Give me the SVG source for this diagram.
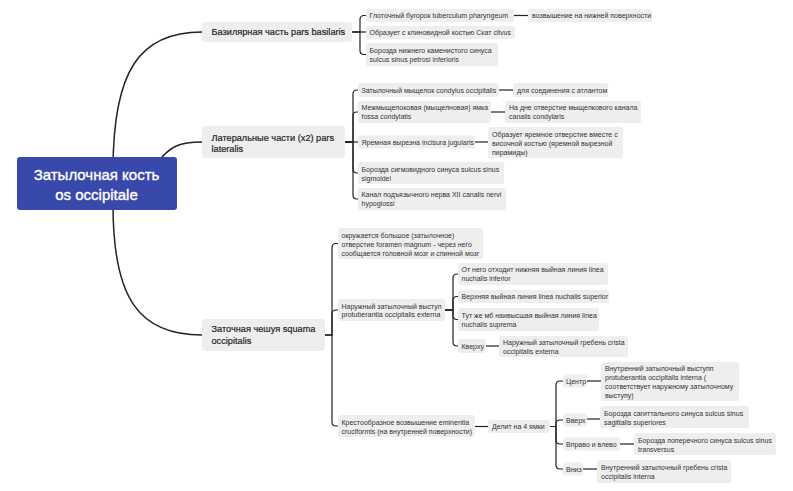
<svg xmlns="http://www.w3.org/2000/svg" width="793" height="491" viewBox="0 0 793 491">
<style>
.bg{fill:#ffffff}
.n{fill:#eeeeee}
.t{font-family:"Liberation Sans",Arial,sans-serif;font-size:7px;fill:#333333}
.t1{font-family:"Liberation Sans",Arial,sans-serif;font-size:9.2px;fill:#1f1f1f;stroke:#1f1f1f;stroke-width:0.2}
.rt{font-family:"Liberation Sans",Arial,sans-serif;font-size:15px;fill:#ffffff;stroke:#ffffff;stroke-width:0.35;text-anchor:middle}
.c{fill:none;stroke:#222222;stroke-width:1.2}
.c0{fill:none;stroke:#222222;stroke-width:1.5}
</style>
<rect class="bg" x="0" y="0" width="793" height="491"/>
<g id="connectors">
<path class="c0" d="M113,170 C113,70 140,32 202,32"/>
<path class="c0" d="M158,162 C170,146 180,142 202,142"/>
<path class="c0" d="M113,205 C113,300 140,335 202,335"/>
<path class="c" d="M352,32 H360 V19.5 Q360,15.5 364,15.5 H366"/>
<path class="c" d="M352,32 H366"/>
<path class="c" d="M352,32 H360 V50.5 Q360,54.5 364,54.5 H366"/>
<path class="c" d="M514,15.5 H528"/>
<path class="c" d="M345,142 H353 V94 Q353,90 357,90 H358"/>
<path class="c" d="M345,142 H353 V116 Q353,112 357,112 H358"/>
<path class="c" d="M345,142 H358"/>
<path class="c" d="M345,142 H353 V169 Q353,173 357,173 H358"/>
<path class="c" d="M345,142 H353 V195 Q353,199 357,199 H358"/>
<path class="c" d="M499,90 H513"/>
<path class="c" d="M491,112 H505"/>
<path class="c" d="M475,142 H488"/>
<path class="c" d="M325,335 H332 V247.5 Q332,243.5 336,243.5 H338"/>
<path class="c" d="M325,335 H332 V314 Q332,310 336,310 H338"/>
<path class="c" d="M325,335 H332 V422 Q332,426 336,426 H338"/>
<path class="c" d="M445,310 H453 V278 Q453,274 457,274 H458"/>
<path class="c" d="M445,310 H453 V300.5 Q453,296.5 457,296.5 H458"/>
<path class="c" d="M445,310 H453 V315.5 Q453,319.5 457,319.5 H458"/>
<path class="c" d="M445,310 H453 V342 Q453,346 457,346 H458"/>
<path class="c" d="M486,346 H499"/>
<path class="c" d="M475,426.5 H488"/>
<path class="c" d="M550,426.5 H556 V385 Q556,381 560,381 H563"/>
<path class="c" d="M550,426.5 H556 V424 Q556,420 560,420 H563"/>
<path class="c" d="M550,426.5 H556 V440 Q556,444 560,444 H563"/>
<path class="c" d="M550,426.5 H556 V465 Q556,469 560,469 H563"/>
<path class="c" d="M587,381 H601"/>
<path class="c" d="M587,419 H600"/>
<path class="c" d="M620,444 H634"/>
<path class="c" d="M583,469 H597"/>
</g>
<g id="root">
<rect x="17" y="157" width="160" height="53" rx="3" fill="#3949ab"/>
<text class="rt" x="96.5" y="179.5">Затылочная кость</text>
<text class="rt" x="96.5" y="199.5">os occipitale</text>
</g>
<g id="basilaris">
<rect class="n" x="202" y="22" width="150" height="20" rx="3"/>
<text class="t1" x="211.5" y="35.3">Базилярная часть pars basilaris</text>
</g>
<g id="b1"><rect class="n" x="366" y="9" width="148" height="13" rx="2.5"/><text class="t" x="369.5" y="18">Глоточный бугорок tuberculum pharyngeum</text></g>
<g id="b1a"><rect class="n" x="528" y="9" width="124" height="13" rx="2.5"/><text class="t" x="532" y="18">возвышение на нижней поверхности</text></g>
<g id="b2"><rect class="n" x="366" y="26" width="149" height="13" rx="2.5"/><text class="t" x="369.5" y="35">Образует с клиновидной костью Скат clivus</text></g>
<g id="b3"><rect class="n" x="366" y="43" width="132" height="23" rx="2.5"/><text class="t" x="369.5" y="52.5">Борозда нижнего каменистого синуса</text><text class="t" x="369.5" y="62">sulcus sinus petrosi inferioris</text></g>
<g id="lateralis">
<rect class="n" x="202" y="126" width="143" height="32" rx="3"/>
<text class="t1" x="211.5" y="140.5">Латеральные части (x2) pars</text>
<text class="t1" x="211.5" y="151.5">lateralis</text>
</g>
<g id="l1"><rect class="n" x="358" y="83" width="141" height="14" rx="2.5"/><text class="t" x="361.5" y="92.5">Затылочный мыщелок condylus occipitalis</text></g>
<g id="l1a"><rect class="n" x="513" y="83" width="95" height="14" rx="2.5"/><text class="t" x="517" y="92.5">для соединения с атлантом</text></g>
<g id="l2"><rect class="n" x="358" y="101" width="133" height="22" rx="2.5"/><text class="t" x="361.5" y="110.2">Межмыщелоковая (мыщелновая) ямка</text><text class="t" x="361.5" y="119.2">fossa condylatis</text></g>
<g id="l2a"><rect class="n" x="505" y="101" width="136" height="22" rx="2.5"/><text class="t" x="509" y="110.2">На дне отверстие мыщелкового канала</text><text class="t" x="509" y="119.2">canalis condylaris</text></g>
<g id="l3"><rect class="n" x="358" y="135.5" width="117" height="13" rx="2.5"/><text class="t" x="361.5" y="144.5">Яремная вырезна incisura jugularis</text></g>
<g id="l3a"><rect class="n" x="488" y="127" width="135" height="31" rx="2.5"/><text class="t" x="492" y="136.5">Образует яремное отверстие вместе с</text><text class="t" x="492" y="145.5">височной костью (яремной вырезной</text><text class="t" x="492" y="154.5">пирамиды)</text></g>
<g id="l4"><rect class="n" x="358" y="162" width="146" height="22" rx="2.5"/><text class="t" x="361.5" y="171.5">Борозда сигмовидного синуса sulcus sinus</text><text class="t" x="361.5" y="180.5">sigmoidei</text></g>
<g id="l5"><rect class="n" x="358" y="188" width="148" height="22" rx="2.5"/><text class="t" x="361.5" y="196.8">Канал подъязычного нерва XII canalis nervi</text><text class="t" x="361.5" y="205.8">hypoglossi</text></g>
<g id="squama">
<rect class="n" x="202" y="319" width="123" height="32" rx="3"/>
<text class="t1" x="211.5" y="332.3">Заточная чешуя squama</text>
<text class="t1" x="211.5" y="343.5">occipitalis</text>
</g>
<g id="s1"><rect class="n" x="338" y="228" width="145" height="31" rx="2.5"/><text class="t" x="341.5" y="237.8">окружается большое (затылочное)</text><text class="t" x="341.5" y="246.8">отверстие foramen magnum - через него</text><text class="t" x="341.5" y="255.8">сообщается головной мозг и спинной мозг</text></g>
<g id="s2"><rect class="n" x="338" y="299" width="107" height="22" rx="2.5"/><text class="t" x="341.5" y="308.5">Наружный затылочный выступ</text><text class="t" x="341.5" y="317.3">protuberantia occipitalis externa</text></g>
<g id="n1"><rect class="n" x="458" y="263" width="150" height="22" rx="2.5"/><text class="t" x="461.5" y="271.8">От него отходит нижняя выйная линия linea</text><text class="t" x="461.5" y="280.8">nuchalis inferior</text></g>
<g id="n2"><rect class="n" x="458" y="290" width="151" height="13" rx="2.5"/><text class="t" x="461.5" y="299">Верхняя выйная линия linea nuchalis superior</text></g>
<g id="n3"><rect class="n" x="458" y="308" width="141" height="23" rx="2.5"/><text class="t" x="461.5" y="317.5">Тут же мб наивысшая выйная линия linea</text><text class="t" x="461.5" y="326.5">nuchalis suprema</text></g>
<g id="n4"><rect class="n" x="458" y="339" width="28" height="14" rx="2.5"/><text class="t" x="461.5" y="348.5">Кверху</text></g>
<g id="n4a"><rect class="n" x="499" y="336" width="129" height="21" rx="2.5"/><text class="t" x="503" y="345">Наружный затылочный гребень crista</text><text class="t" x="503" y="354">occipitalis externa</text></g>
<g id="s3"><rect class="n" x="338" y="415" width="137" height="22" rx="2.5"/><text class="t" x="341.5" y="424.5">Крестообразное возвышение eminentia</text><text class="t" x="341.5" y="433.5">cruciformis (на внутренней поверхности)</text></g>
<g id="d"><rect class="n" x="488" y="420" width="62" height="13" rx="2.5"/><text class="t" x="492" y="429">Делит на 4 ямки</text></g>
<g id="c1"><rect class="n" x="563" y="374.5" width="24" height="13" rx="2.5"/><text class="t" x="566" y="383.5">Центр</text></g>
<g id="c1a"><rect class="n" x="601" y="362" width="138" height="39" rx="2.5"/><text class="t" x="605" y="370.5">Внутренний затылочный выступп</text><text class="t" x="605" y="379.5">protuberantia occipitalis interna (</text><text class="t" x="605" y="388.5">соответствует наружному затылочному</text><text class="t" x="605" y="397.5">выступу)</text></g>
<g id="c2"><rect class="n" x="563" y="413.5" width="24" height="13" rx="2.5"/><text class="t" x="566" y="422.5">Вверх</text></g>
<g id="c2a"><rect class="n" x="600" y="406" width="149" height="22" rx="2.5"/><text class="t" x="604" y="415.5">Борозда сагиттального синуса sulcus sinus</text><text class="t" x="604" y="424.5">sagittalis superiores</text></g>
<g id="c3"><rect class="n" x="563" y="437.5" width="57" height="13" rx="2.5"/><text class="t" x="566" y="446.5">Вправо и влево</text></g>
<g id="c3a"><rect class="n" x="634" y="433" width="142" height="22" rx="2.5"/><text class="t" x="638" y="442.5">Борозда поперечного синуса sulcus sinus</text><text class="t" x="638" y="451.5">transversus</text></g>
<g id="c4"><rect class="n" x="563" y="462.5" width="20" height="13" rx="2.5"/><text class="t" x="566" y="471.5">Вниз</text></g>
<g id="c4a"><rect class="n" x="597" y="460" width="134" height="23" rx="2.5"/><text class="t" x="601" y="469.5">Внутренний затылочный гребень crista</text><text class="t" x="601" y="478.5">occipitalis interna</text></g>
</svg>
